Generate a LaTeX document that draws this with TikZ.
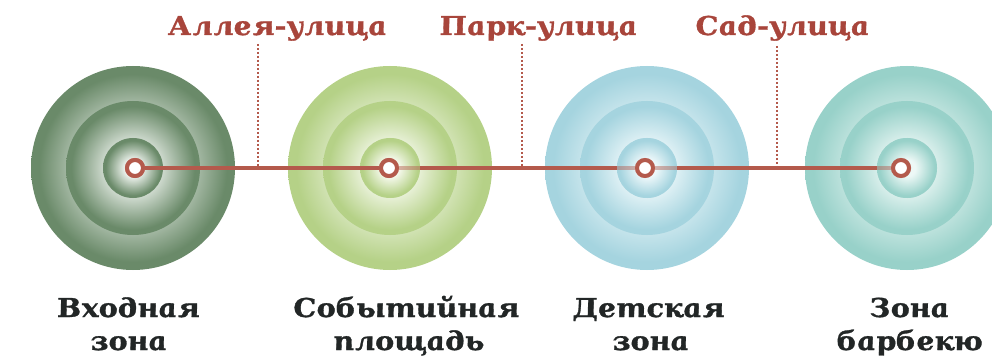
\documentclass[tikz,border=0pt]{standalone}
\usepackage{fontspec}
\newfontface\lblfont{DejaVu Serif Bold Italic}[FakeSlant=-0.19,FakeStretch=1.1,FakeBold=1.2]
\definecolor{lineRed}{HTML}{B45A4C}
\definecolor{textRed}{HTML}{A8453B}
\definecolor{textDark}{HTML}{222626}
\definecolor{gA}{HTML}{6A8A69}\definecolor{gAl}{HTML}{EEF3EE}
\definecolor{gB}{HTML}{B5D187}\definecolor{gBl}{HTML}{F7FAEF}
\definecolor{gC}{HTML}{A5D4DF}\definecolor{gCl}{HTML}{F0F9FB}
\definecolor{gD}{HTML}{98D1C9}\definecolor{gDl}{HTML}{EDF8F6}
\pgfdeclareradialshading{shA}{\pgfpoint{0bp}{0bp}}{color(0bp)=(gAl); color(7bp)=(gAl); color(23bp)=(gA); color(50bp)=(gA)}
\pgfdeclareradialshading{shB}{\pgfpoint{0bp}{0bp}}{color(0bp)=(gBl); color(7bp)=(gBl); color(23bp)=(gB); color(50bp)=(gB)}
\pgfdeclareradialshading{shC}{\pgfpoint{0bp}{0bp}}{color(0bp)=(gCl); color(7bp)=(gCl); color(23bp)=(gC); color(50bp)=(gC)}
\pgfdeclareradialshading{shD}{\pgfpoint{0bp}{0bp}}{color(0bp)=(gDl); color(7bp)=(gDl); color(23bp)=(gD); color(50bp)=(gD)}
\tikzset{
  marker/.style={circle, draw=lineRed, line width=4pt, fill=white, minimum size=16pt, inner sep=0pt},
  road/.style={draw=lineRed, line width=4pt},
  dotline/.style={draw=lineRed, line width=2pt, dash pattern=on 2pt off 2pt},
  streetlbl/.style={anchor=base, text=textRed, font=\lblfont\fontsize{26}{30}\selectfont, inner sep=0pt},
  zonelbl/.style={anchor=base, text=textDark, font=\lblfont\fontsize{26}{30}\selectfont, inner sep=0pt},
  veil/.style={opacity=0.55},
}
\newcommand{\rings}[3]{%
  \shade[shading=#3] (#1,#2) circle[radius=102pt];
  \shade[shading=#3] (#1,#2) circle[radius=67pt];
  \shade[shading=#3] (#1,#2) circle[radius=30pt];
}
\begin{document}
\begin{tikzpicture}[x=1pt,y=-1pt]
\useasboundingbox (0,0) rectangle (992,358);
\clip (0,0) rectangle (992,358);
\rings{133}{168}{shA}
\rings{390}{168}{shB}
\rings{647}{168}{shC}
\rings{907}{168}{shD}
% dotted leaders
\coordinate (d1t) at (258,44); \coordinate (d1b) at (258,168);
\coordinate (d2t) at (522,44); \coordinate (d2b) at (522,168);
\coordinate (d3t) at (777,46); \coordinate (d3b) at (777,168);
\draw[dotline] (d1t) -- (d1b);
\draw[dotline] (d2t) -- (d2b);
\draw[dotline] (d3t) -- (d3b);
% markers (positions)
\node[marker] (m1) at (135,168) {};
\node[marker] (m2) at (389,168) {};
\node[marker] (m3) at (645,168) {};
\node[marker] (m4) at (901,168) {};
\draw[road] (m1.east) -- (m2.west);
\draw[road] (m2.east) -- (m3.west);
\draw[road] (m3.east) -- (m4.west);
% translucent inner disks over the road
\begin{scope}
  \clip (392,130) rectangle (430,206);
  \shade[shading=shB, veil] (390,168) circle[radius=30pt];
\end{scope}
\shade[shading=shC, veil] (647,168) circle[radius=30pt];
\shade[shading=shD, veil] (907,168) circle[radius=30pt];
% markers on top
\node[marker] at (m1) {};
\node[marker] at (m2) {};
\node[marker] at (m3) {};
\node[marker] at (m4) {};
% street labels
\node[streetlbl] (s1) at (279,35) {Аллея-улица};
\node[streetlbl] (s2) at (540,35) {Парк-улица};
\node[streetlbl] (s3) at (784,35) {Сад-улица};
% zone labels
\node[zonelbl] (z1a) at (130,317) {Входная};
\node[zonelbl] (z1b) at (130,350) {зона};
\node[zonelbl] (z2a) at (408,317) {Событийная};
\node[zonelbl] (z2b) at (410,350) {площадь};
\node[zonelbl] (z3a) at (650,317) {Детская};
\node[zonelbl] (z3b) at (652,350) {зона};
\node[zonelbl] (z4a) at (911,317) {Зона};
\node[zonelbl] (z4b) at (911,350) {барбекю};
\end{tikzpicture}
\end{document}
